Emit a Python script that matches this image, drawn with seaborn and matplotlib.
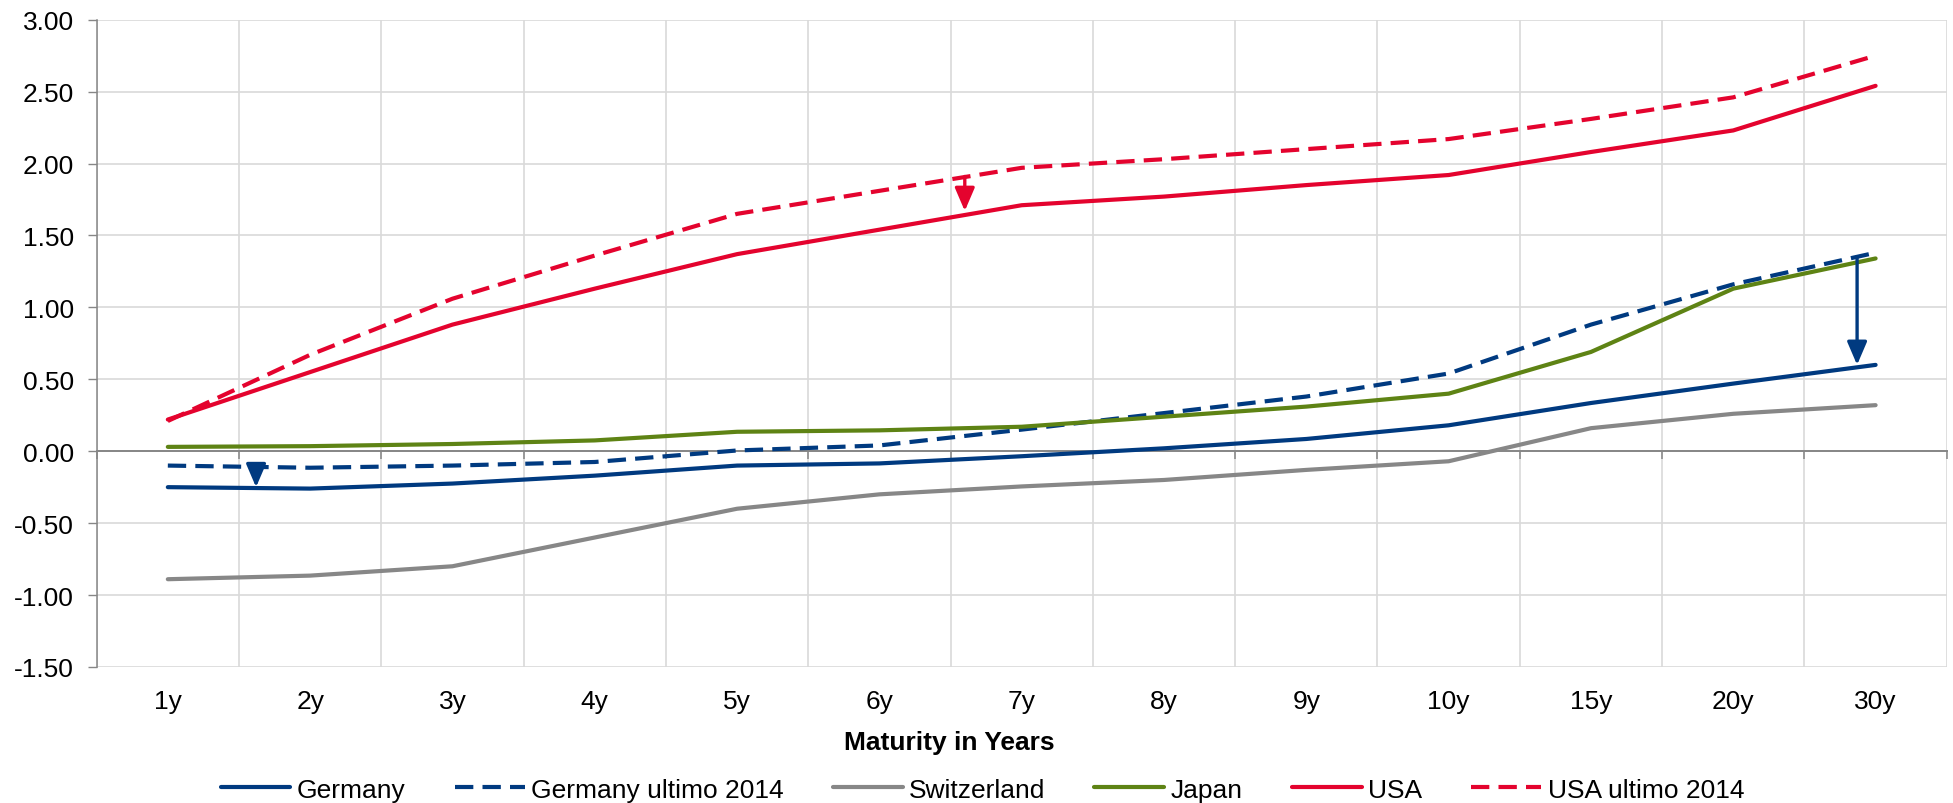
import numpy as np
import pandas as pd
import matplotlib
matplotlib.use('Agg')
import matplotlib.pyplot as plt
from matplotlib.lines import Line2D
from matplotlib.ticker import FuncFormatter, MultipleLocator
import seaborn as sns

# maturities on the x axis
maturities = ['1y', '2y', '3y', '4y', '5y', '6y', '7y', '8y', '9y', '10y', '15y', '20y', '30y']

# yields in percent
germany = [-0.25, -0.26, -0.225, -0.17, -0.10, -0.085, -0.035, 0.02, 0.085, 0.18, 0.335, 0.47, 0.60]
germany_2014 = [-0.10, -0.115, -0.10, -0.075, 0.005, 0.04, 0.15, 0.265, 0.38, 0.54, 0.88, 1.16, 1.38]
switzerland = [-0.89, -0.865, -0.80, -0.60, -0.40, -0.30, -0.245, -0.20, -0.13, -0.07, 0.16, 0.26, 0.32]
japan = [0.03, 0.035, 0.05, 0.075, 0.135, 0.145, 0.17, 0.24, 0.31, 0.40, 0.69, 1.13, 1.34]
usa = [0.22, 0.55, 0.88, 1.13, 1.37, 1.54, 1.71, 1.77, 1.85, 1.92, 2.08, 2.23, 2.54]
usa_2014 = [0.21, 0.67, 1.06, 1.36, 1.65, 1.81, 1.97, 2.03, 2.10, 2.17, 2.31, 2.46, 2.75]

series_names = ['Germany', 'Germany ultimo 2014', 'Switzerland', 'Japan', 'USA', 'USA ultimo 2014']
series_values = [germany, germany_2014, switzerland, japan, usa, usa_2014]

# arrows: (x position in category units, from yield, to yield, series colour)
arrows = [(0.62, -0.11, -0.25, 'Germany'),
          (5.6, 1.91, 1.67, 'USA'),
          (11.87, 1.35, 0.60, 'Germany')]

colors = {'Germany': '#003A80', 'Germany ultimo 2014': '#003A80',
          'Switzerland': '#878787', 'Japan': '#5E8314',
          'USA': '#E4032E', 'USA ultimo 2014': '#E4032E'}
dash = (4.4, 2.2)
dashes = {'Germany': '', 'Germany ultimo 2014': dash, 'Switzerland': '',
          'Japan': '', 'USA': '', 'USA ultimo 2014': dash}

sns.set_theme(style='white')
plt.rcParams['font.family'] = ['Liberation Sans', 'DejaVu Sans']
plt.rcParams['axes.unicode_minus'] = False
plt.rcParams['text.color'] = 'black'
plt.rcParams['xtick.color'] = 'black'
plt.rcParams['ytick.color'] = 'black'
plt.rcParams['axes.labelcolor'] = 'black'

rows = []
for name, vals in zip(series_names, series_values):
    for i, v in enumerate(vals):
        rows.append({'pos': i, 'yield': v, 'series': name})
df = pd.DataFrame(rows)

fig = plt.figure(figsize=(19.53, 8.04), dpi=100)
ax = fig.add_axes([0.0495, 0.1692, 0.9473, 0.8051])

lw = 3.0
fs = 19
sns.lineplot(data=df, x='pos', y='yield', hue='series', style='series',
             palette=colors, dashes=dashes, hue_order=series_names,
             style_order=series_names, sort=False, estimator=None,
             linewidth=lw, ax=ax, legend=False, zorder=3)

for x, y0, y1, name in arrows:
    ax.annotate('', xy=(x, y1), xytext=(x, y0),
                arrowprops=dict(arrowstyle='-|>,head_length=0.7,head_width=0.3',
                                color=colors[name], lw=2.4, shrinkA=0, shrinkB=0,
                                mutation_scale=20),
                zorder=4)

n = len(maturities)
ax.set_xlim(-0.5, n - 0.5)
ax.set_ylim(-1.5, 3.0)

# category labels at centres, grid at category boundaries
ax.set_xticks(range(n))
ax.set_xticklabels(maturities)
ax.set_xticks(np.arange(n + 1) - 0.5, minor=True)
ax.tick_params(axis='x', which='both', length=0, labelsize=fs, pad=16, labelcolor='black')
ax.yaxis.set_major_locator(MultipleLocator(0.5))
ax.yaxis.set_major_formatter(FuncFormatter(lambda v, p: '%.2f' % v))
ax.tick_params(axis='y', which='major', length=6.2, width=1, color='#868686',
               labelsize=fs, pad=10, left=True, direction='out', labelcolor='black')

ax.grid(False)
ax.grid(True, which='major', axis='y', color='#D9D9D9', lw=1.2, zorder=0)
ax.grid(True, which='minor', axis='x', color='#D9D9D9', lw=1.2, zorder=0)
ax.set_axisbelow(True)
for s in ['top', 'right', 'bottom']:
    ax.spines[s].set_visible(False)
ax.spines['left'].set_color('#868686')
ax.spines['left'].set_linewidth(1.1)

# horizontal axis line at zero with boundary ticks
sec = ax.secondary_xaxis(1.5 / 4.5)
sec.set_xticks(np.arange(n + 1) - 0.5)
sec.tick_params(axis='x', length=6, width=1.1, color='#868686', labelbottom=False,
                labeltop=False, direction='out', bottom=True, top=False)
for s in sec.spines.values():
    s.set_visible(False)
sec.spines['bottom'].set_visible(True)
sec.spines['bottom'].set_color('#868686')
sec.spines['bottom'].set_linewidth(1.4)
sec.set_zorder(2)

ax.set_xlabel('Maturity in Years', fontsize=fs, fontweight='bold', color='black')
ax.xaxis.set_label_coords(0.461, -0.097)
ax.set_ylabel('')

handles = [Line2D([], [], color=colors[nm], lw=lw,
                  ls=(0, dash) if dashes[nm] else '-') for nm in series_names]
fig.legend(handles, series_names, loc='center', bbox_to_anchor=(0.503, 0.0165),
           ncol=6, frameon=False, fontsize=fs, handlelength=2.65,
           handletextpad=0.25, columnspacing=1.85, borderpad=0)

fig.savefig('out.png', dpi=100, facecolor='white')
